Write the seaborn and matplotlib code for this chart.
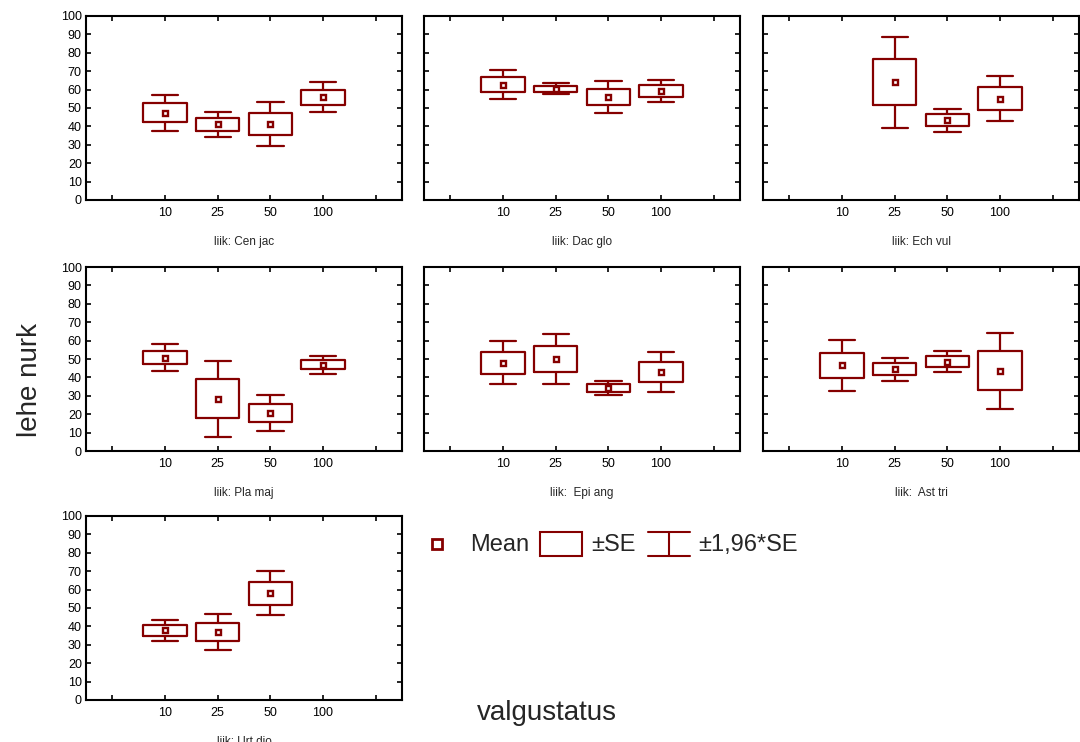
import numpy as np
import pandas as pd
import matplotlib
matplotlib.use("Agg")
import matplotlib.pyplot as plt
import seaborn as sns
from matplotlib.patches import Rectangle
from matplotlib.lines import Line2D

sns.set_style("ticks")
plt.rcParams["font.family"] = ["Liberation Sans", "DejaVu Sans"]

# ---------------- data ----------------
levels = ["10", "25", "50", "100"]
species = ["Cen jac", "Dac glo", "Ech vul", "Pla maj", "Epi ang", "Ast tri", "Urt dio"]
panel_titles = ["liik: Cen jac", "liik: Dac glo", "liik: Ech vul",
                "liik: Pla maj", "liik:  Epi ang", "liik:  Ast tri", "liik: Urt dio"]

cen_mean = [47.5, 41.1, 41.3, 55.8]
cen_se = [5.0, 3.5, 6.2, 4.2]
dac_mean = [62.7, 60.5, 55.9, 59.3]
dac_se = [4.1, 1.55, 4.4, 3.1]
ech_mean = [np.nan, 64.0, 43.3, 55.0]
ech_se = [np.nan, 12.6, 3.2, 6.2]
pla_mean = [50.8, 28.4, 20.6, 46.8]
pla_se = [3.7, 10.6, 5.0, 2.4]
epi_mean = [48.0, 50.1, 34.3, 42.8]
epi_se = [5.9, 7.0, 2.0, 5.5]
ast_mean = [46.5, 44.4, 48.6, 43.6]
ast_se = [7.0, 3.2, 2.9, 10.6]
urt_mean = [37.8, 37.1, 57.9, np.nan]
urt_se = [3.0, 5.0, 6.1, np.nan]

all_means = [cen_mean, dac_mean, ech_mean, pla_mean, epi_mean, ast_mean, urt_mean]
all_ses = [cen_se, dac_se, ech_se, pla_se, epi_se, ast_se, urt_se]

RED = "#850000"
W, H = 1080, 742

fig = plt.figure(figsize=(W / 100, H / 100), dpi=100)

col_x = [86, 424, 763]
row_top = [16, 267, 516]
pw, ph = 316, 184

for i, (sp, title) in enumerate(zip(species, panel_titles)):
    r, c = divmod(i, 3)
    ax = fig.add_axes([col_x[c] / W, 1 - (row_top[r] + ph) / H, pw / W, ph / H])

    rows = []
    mrows = []
    for lev, m, s in zip(levels, all_means[i], all_ses[i]):
        if np.isnan(m):
            continue
        # box = mean +/- SE, whiskers = mean +/- 1.96*SE
        for k in (-1.96, -1.0, 0.0, 1.0, 1.96):
            rows.append({"valgustatus": lev, "val": m + k * s})
        mrows.append({"valgustatus": lev, "mean": m})
    df = pd.DataFrame(rows)
    mdf = pd.DataFrame(mrows)

    sns.boxplot(data=df, x="valgustatus", y="val", order=levels, ax=ax,
                fill=False, color=RED, linecolor=RED, width=0.82,
                whis=(0, 100), linewidth=1.6, capwidths=0.5,
                medianprops={"visible": False}, showfliers=False)
    sns.pointplot(data=mdf, x="valgustatus", y="mean", order=levels, ax=ax,
                  linestyle="none", marker="s", color=RED, markersize=3.6,
                  markeredgewidth=1.7, markerfacecolor="white", errorbar=None)

    ax.set_xlim(-1.5, 4.5)
    ax.set_xticks(range(-1, 5))
    ax.set_xticklabels([""] + levels + [""])
    ax.set_ylim(0, 100)
    ax.set_yticks(range(0, 101, 10))
    ax.set_xlabel("")
    ax.set_ylabel("")
    ax.tick_params(direction="in", top=True, right=True, length=3.5, width=1.2,
                   labelsize=9, colors="black", pad=5)
    ax.tick_params(axis="y", labelleft=(c == 0), pad=3)
    for sp_ in ax.spines.values():
        sp_.set_visible(True)
        sp_.set_linewidth(1.5)
        sp_.set_color("black")
    ax.annotate(title, xy=(0.5, 0), xycoords="axes fraction",
                xytext=(0, -42 * 0.72), textcoords="offset points",
                ha="center", va="center", fontsize=8.5)

fig.text(30 / W, 1 - 380 / H, "lehe nurk", rotation=90, fontsize=20,
         ha="center", va="center")
fig.text(547 / W, 1 - 713 / H, "valgustatus", fontsize=20,
         ha="center", va="center")

# legend
lg = fig.add_axes([0, 0, 1, 1], facecolor="none")
lg.set_xlim(0, W)
lg.set_ylim(H, 0)
lg.axis("off")
lg.add_line(Line2D([437], [544], marker="s", markersize=6.5, markerfacecolor="white",
                   markeredgecolor=RED, markeredgewidth=2, linestyle="none"))
lg.text(470, 545, "Mean", fontsize=17, ha="left", va="center")
lg.add_patch(Rectangle((540, 532), 42, 24, fill=False, edgecolor=RED, linewidth=1.5))
lg.text(591, 545, "±SE", fontsize=17, ha="left", va="center")
for (x0, y0, x1, y1) in [(648, 532, 690, 532), (648, 556, 690, 556), (669, 532, 669, 556)]:
    lg.add_line(Line2D([x0, x1], [y0, y1], color=RED, linewidth=1.5))
lg.text(698, 545, "±1,96*SE", fontsize=17, ha="left", va="center")

fig.savefig("out.png", dpi=100)
